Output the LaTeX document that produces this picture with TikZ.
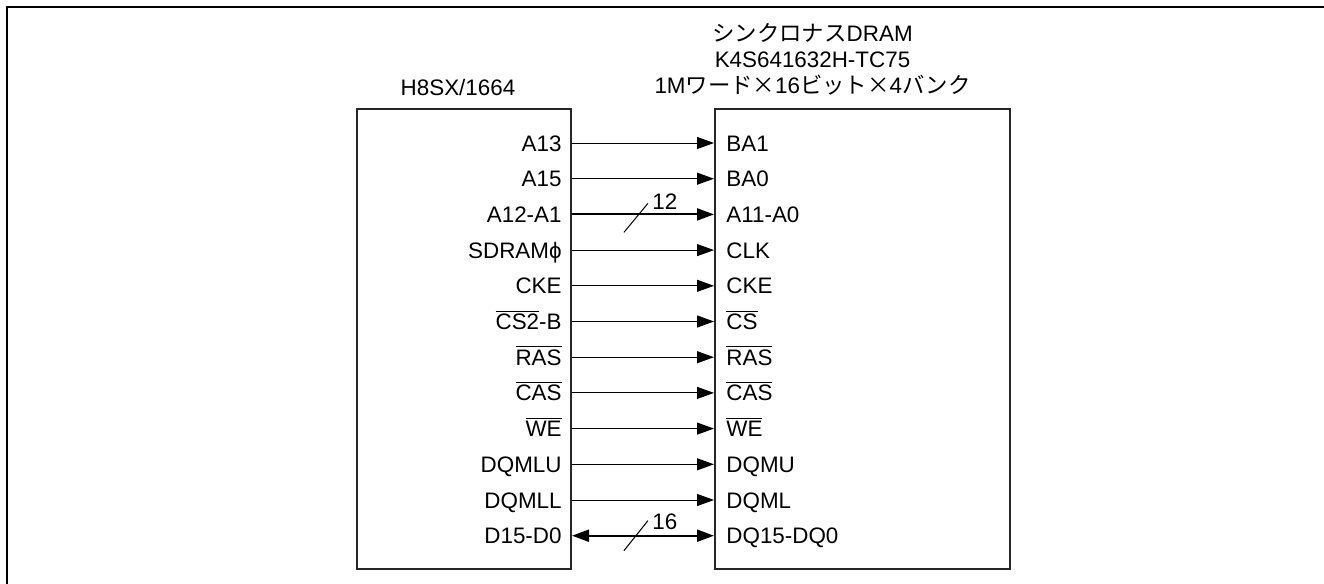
\documentclass[tikz,border=0pt]{standalone}
\usepackage{fontspec}
\setmainfont{Liberation Sans}
\newfontfamily\jpfont{Noto Sans CJK JP}
\usetikzlibrary{arrows.meta,positioning}
\newcommand{\ovl}[1]{$\overline{\mbox{#1}}$}
\tikzset{
  % chip outline
  CHIP/.style={rectangle,draw=black!85,line width=1pt,inner sep=0pt,
               minimum height=230pt},
  % pin names
  PN/.style={inner sep=0pt,text height=8pt,text depth=0pt,
             font=\fontsize{11.2}{13}\selectfont},
  PL/.style={PN,anchor=east},
  PR/.style={PN,anchor=west},
  % chip titles
  TT/.style={inner sep=0pt,align=center,font=\fontsize{11.2}{13}\selectfont},
  % signal lines
  >={Triangle[length=8.5pt,width=6pt]},
  sig/.style={->,line width=0.5pt},
  bus/.style={line width=1pt},
  slash/.style={line width=0.5pt}
}

\begin{document}
\begin{tikzpicture}[x=0.5pt,y=-0.5pt]
  \useasboundingbox (0,0) rectangle (1324,584);
  \draw[line width=1pt] (7,584) -- (7,7) -- (1324,7);
  \node[CHIP,minimum width=107pt] (h8) at (464,339) {};
  \node[CHIP,minimum width=147.5pt] (dram) at (862.5,339) {};
  \node[TT,above=6pt of h8,xshift=-3pt] (h8t) {H8SX/1664};
  \node[TT,above=6pt of dram,xshift=-25pt] (dramt)
    {{\jpfont シンクロナス}DRAM\\K4S641632H-TC75\\1M{\jpfont ワード×}16{\jpfont ビット×}4{\jpfont バンク}};
  % pin names
  \foreach \i/\a/\b in {1/A13/BA1,2/A15/BA0,3/A12-A1/A11-A0,4/SDRAMϕ/CLK,
      5/CKE/CKE,6/\ovl{CS2}-B/\ovl{CS},7/\ovl{RAS}/\ovl{RAS},8/\ovl{CAS}/\ovl{CAS},
      9/\ovl{WE}/\ovl{WE},10/DQMLU/DQMU,11/DQMLL/DQML,12/D15-D0/DQ15-DQ0}{
    \node[PL] (l\i) at (562,107.3+35.7*\i) {\a};
    \node[PR] (r\i) at (726,107.3+35.7*\i) {\b};
  }
  \foreach \i in {1,2,4,5,6,7,8,9,10,11}
    \draw[sig] (l\i -| h8.east) -- (r\i -| dram.west);
  % buses
  \draw[bus,->] (l3 -| h8.east) -- (r3 -| dram.west) coordinate[pos=0.45] (s3);
  \draw[bus,<->] (l12 -| h8.east) -- (r12 -| dram.west) coordinate[pos=0.45] (s12);
  \draw[slash] ([shift={(-12,18)}]s3) -- ([shift={(12,-11)}]s3);
  \draw[slash] ([shift={(-12,15)}]s12) -- ([shift={(12,-15)}]s12);
  \node[PN] (w3) at ([shift={(29,-13)}]s3) {12};
  \node[PN] (w12) at ([shift={(29,-14)}]s12) {16};
\end{tikzpicture}
\end{document}
